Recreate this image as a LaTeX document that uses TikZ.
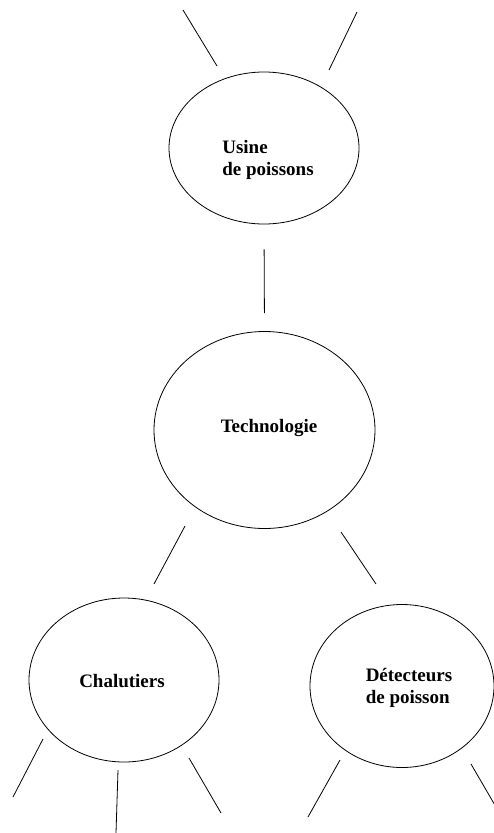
\documentclass[tikz,border=0pt]{standalone}
\usepackage{fontspec}
\setmainfont{Liberation Serif}
\usetikzlibrary{shapes.geometric}
\begin{document}
\begin{tikzpicture}[x=1pt,y=-1pt,
  bubble/.style={draw=black, ellipse, line width=0.8pt, inner sep=0pt},
  txt/.style={font=\fontsize{19}{22}\selectfont\bfseries, align=left, inner sep=0pt},
  stub/.style={draw=black, line width=0.8pt}]
\useasboundingbox (0,0) rectangle (494,833);

% concept bubbles
\node[bubble, minimum width=190pt, minimum height=152pt] (usine) at (264,148) {};
\node[bubble, minimum width=221pt, minimum height=197pt] (tech)  at (264.5,430) {};
\node[bubble, minimum width=190pt, minimum height=164pt] (chal)  at (124,680) {};
\node[bubble, minimum width=184pt, minimum height=163pt] (detec) at (402,686) {};

% labels
\node[txt] (usinetxt) at (268,160) {Usine\\de poissons};
\node[txt] (techtxt)  at (269,428) {Technologie};
\node[txt] (chaltxt)  at (122,681) {Chalutiers};
\node[txt] (detectxt) at (409,688) {Détecteurs\\de poisson};

% link between the two upper bubbles
\draw[stub, shorten <=25pt, shorten >=18pt] (usine.south) -- (tech.north);

% free ends of the branches
\coordinate (u1a) at (183,10);  \coordinate (u1b) at (217,66);
\coordinate (u2a) at (357,12);  \coordinate (u2b) at (329,70);
\coordinate (t1a) at (185,526); \coordinate (t1b) at (154,584);
\coordinate (t2a) at (341,532); \coordinate (t2b) at (376,584);
\coordinate (c1a) at (43,739);  \coordinate (c1b) at (13,797);
\coordinate (c2a) at (118,770); \coordinate (c2b) at (116,833);
\coordinate (c3a) at (189,758); \coordinate (c3b) at (221,813);
\coordinate (d1a) at (340,760); \coordinate (d1b) at (308,817);
\coordinate (d2a) at (471,764); \coordinate (d2b) at (496,807);

\draw[stub] (u1a) -- (u1b);
\draw[stub] (u2a) -- (u2b);
\draw[stub] (t1a) -- (t1b);
\draw[stub] (t2a) -- (t2b);
\draw[stub] (c1a) -- (c1b);
\draw[stub] (c2a) -- (c2b);
\draw[stub] (c3a) -- (c3b);
\draw[stub] (d1a) -- (d1b);
\draw[stub] (d2a) -- (d2b);
\end{tikzpicture}
\end{document}
